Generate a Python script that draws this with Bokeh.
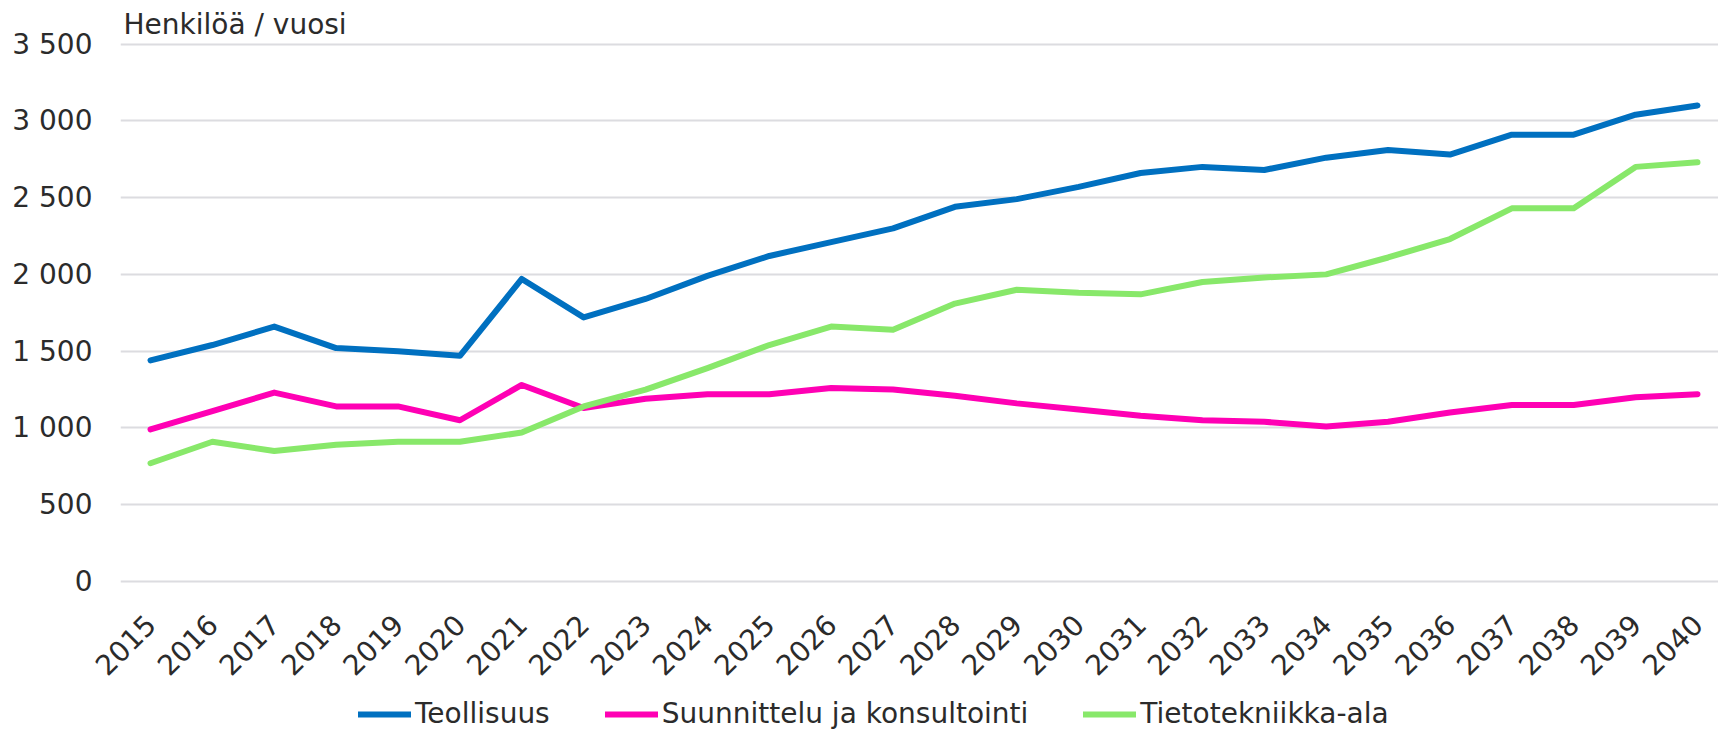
import math
from bokeh.plotting import figure
from bokeh.layouts import column
from bokeh.models import FixedTicker, Legend, LegendItem, Title, Range1d
from bokeh.embed import file_html
from bokeh.resources import INLINE

years = list(range(2015, 2041))
teollisuus = [1440, 1540, 1660, 1520, 1500, 1470, 1970, 1720, 1840, 1990, 2120, 2210, 2300,
              2440, 2490, 2570, 2660, 2700, 2680, 2760, 2810, 2780, 2910, 2910, 3040, 3100]
suunnittelu = [990, 1110, 1230, 1140, 1140, 1050, 1280, 1130, 1190, 1220, 1220, 1260, 1250,
               1210, 1160, 1120, 1080, 1050, 1040, 1010, 1040, 1100, 1150, 1150, 1200, 1220]
tietotekniikka = [770, 910, 850, 890, 910, 910, 970, 1140, 1250, 1390, 1540, 1660, 1640,
                  1810, 1900, 1880, 1870, 1950, 1980, 2000, 2110, 2230, 2430, 2430, 2700, 2730]
series_names = ["Teollisuus", "Suunnittelu ja konsultointi", "Tietotekniikka-ala"]
series_colors = ["#0070c0", "#ff00b4", "#88e86a"]
y_ticks = [0, 500, 1000, 1500, 2000, 2500, 3000, 3500]
y_tick_labels = ["0", "500", "1 000", "1 500", "2 000", "2 500", "3 000", "3 500"]
x_tick_labels = [str(y) for y in years]
y_title = "Henkilöä / vuosi"

FONT = "DejaVu Sans"
TXT = "#2b2b2b"
FS = "28px"
LW = 6

series_values = [teollisuus, suunnittelu, tietotekniikka]

p = figure(width=1718, height=696, output_backend="svg", toolbar_location=None,
           x_range=Range1d(2014.515, 2040.34), y_range=Range1d(-19.5, 3523),
           min_border_left=120, min_border_right=0, min_border_top=40, min_border_bottom=112)
p.outline_line_color = None
p.background_fill_color = "white"

for vals, col in zip(series_values, series_colors):
    p.line(years, vals, line_color=col, line_width=LW, line_cap="round", line_join="round")

p.xgrid.visible = False
p.ygrid.ticker = FixedTicker(ticks=y_ticks)
p.ygrid.grid_line_color = "#dcdce0"
p.ygrid.grid_line_width = 2

ya = p.yaxis[0]
ya.ticker = FixedTicker(ticks=y_ticks)
ya.major_label_overrides = {t: l for t, l in zip(y_ticks, y_tick_labels)}
ya.axis_line_color = None
ya.major_tick_line_color = None
ya.minor_tick_line_color = None
ya.major_tick_out = 0
ya.major_tick_in = 0
ya.major_label_standoff = 28
ya.major_label_text_font = FONT
ya.major_label_text_font_size = FS
ya.major_label_text_color = TXT

xa = p.xaxis[0]
xa.ticker = FixedTicker(ticks=years)
xa.major_label_overrides = {y: l for y, l in zip(years, x_tick_labels)}
xa.axis_line_color = None
xa.major_tick_line_color = None
xa.minor_tick_line_color = None
xa.major_tick_out = 0
xa.major_tick_in = 0
xa.major_label_standoff = 35
xa.major_label_orientation = math.pi / 4
xa.major_label_text_font = FONT
xa.major_label_text_font_size = FS
xa.major_label_text_color = TXT

title = Title(text=y_title, align="left", offset=3, standoff=0,
              text_font=FONT, text_font_size=FS, text_color=TXT, text_font_style="normal")
p.add_layout(title, "above")

# legend strip below the chart (series drawn outside its visible range, only the legend shows)
lp = figure(width=1718, height=34, output_backend="svg", toolbar_location=None,
            x_axis_type=None, y_axis_type=None, x_range=Range1d(0, 1), y_range=Range1d(0, 1),
            min_border=0, min_border_left=0, min_border_right=0, min_border_top=0, min_border_bottom=0)
lp.outline_line_color = None
lp.grid.visible = False
legend_renderers = [lp.line(years, vals, line_color=c, line_width=LW, line_cap="round")
                    for vals, c in zip(series_values, series_colors)]
legend = Legend(items=[LegendItem(label=n, renderers=[r]) for n, r in zip(series_names, legend_renderers)],
                orientation="horizontal", location=(238, 0),
                glyph_width=53, glyph_height=20, label_standoff=4, spacing=55,
                padding=0, margin=0, border_line_color=None, background_fill_alpha=0,
                label_text_font=FONT, label_text_font_size=FS, label_text_color=TXT)
lp.add_layout(legend, "center")

open("out.html", "w").write(file_html(column(p, lp, spacing=0), INLINE))
